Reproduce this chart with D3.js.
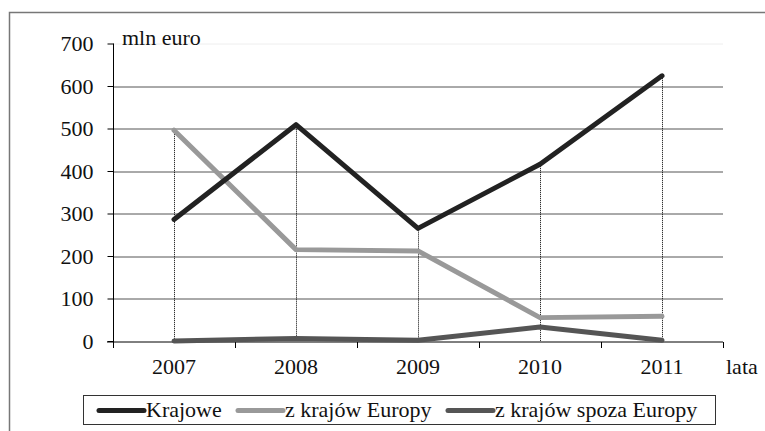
<!DOCTYPE html>
<html>
<head>
<meta charset="utf-8">
<script src="https://cdn.jsdelivr.net/npm/d3@7"></script>
<style>
  body { margin: 0; background: #fff; }
  svg { display: block; }
</style>
</head>
<body>
<div id="vis"><svg></svg></div>
<script>
// data
const years = ["2007", "2008", "2009", "2010", "2011"];
const krajowe = [286, 509, 265, 416, 624];
const europy = [496, 215, 212, 55, 58];
const spoza = [0, 6, 2, 33, 2];
const yTicks = [0, 100, 200, 300, 400, 500, 600, 700];

const series = [
  {name: "Krajowe", values: krajowe, color: "#222222"},
  {name: "z krajów Europy", values: europy, color: "#999999"},
  {name: "z krajów spoza Europy", values: spoza, color: "#555555"}
];

const W = 765, H = 431;
const FS = 22;
const FONT = "Liberation Serif";
const margin = {top: 43.5, right: 42, bottom: 90, left: 113};
const width = W - margin.left - margin.right;
const height = H - margin.top - margin.bottom;

const svg = d3.select("#vis").select("svg")
  .attr("width", W)
  .attr("height", H)
  .attr("font-family", FONT);

// outer frame
svg.append("rect")
  .attr("x", 9.5).attr("y", 12.5)
  .attr("width", W).attr("height", H)
  .attr("fill", "none").attr("stroke", "#777").attr("stroke-width", 1.5);

const g = svg.append("g").attr("transform", `translate(${margin.left},${margin.top})`);

const x = d3.scaleBand().domain(years).range([0, width]);
const y = d3.scaleLinear().domain([0, 700]).range([height, 0]);
const cx = d => x(d) + x.bandwidth() / 2;

// gridlines
g.selectAll(".grid")
  .data(yTicks.filter(t => t > 0))
  .enter().append("line")
    .attr("class", "grid")
    .attr("x1", 0).attr("x2", width)
    .attr("y1", d => Math.round(y(d)) + 0.5).attr("y2", d => Math.round(y(d)) + 0.5)
    .attr("stroke", d => d === 700 ? "#eeeeee" : "#555")
    .attr("stroke-width", 1);

// y axis
const yAxis = g.append("g")
  .attr("transform", "translate(0.5,0)")
  .call(d3.axisLeft(y).tickValues(yTicks).tickSize(6).tickSizeOuter(0).tickPadding(14));
yAxis.attr("font-family", FONT).attr("font-size", FS);
yAxis.select(".domain").attr("stroke", "#000").attr("d", `M0,${y(700)}V${height + 6}`);
yAxis.selectAll(".tick line").attr("stroke", "#000");
yAxis.selectAll(".tick text").attr("font-family", FONT).attr("font-size", FS).attr("fill", "#111");

// x axis with ticks between categories
const xAxisG = g.append("g").attr("transform", `translate(0,${Math.round(height) + 0.5})`);
xAxisG.append("line").attr("x1", -6).attr("x2", width).attr("stroke", "#000");
xAxisG.selectAll(".xt")
  .data(years.map(d => x(d)).concat([width]))
  .enter().append("line")
    .attr("class", "xt")
    .attr("x1", d => Math.round(d) + 0.5).attr("x2", d => Math.round(d) + 0.5)
    .attr("y1", 0).attr("y2", 6)
    .attr("stroke", "#000");
xAxisG.selectAll(".xl")
  .data(years)
  .enter().append("text")
    .attr("class", "xl")
    .attr("x", d => cx(d)).attr("y", 32)
    .attr("text-anchor", "middle")
    .attr("font-family", FONT).attr("font-size", FS).attr("fill", "#111")
    .text(d => d);
xAxisG.append("text")
  .attr("x", width + 3).attr("y", 32)
  .attr("font-family", FONT).attr("font-size", FS).attr("fill", "#111")
  .text("lata");

// unit label
g.append("text")
  .attr("x", 9).attr("y", 1)
  .attr("font-family", FONT).attr("font-size", FS).attr("fill", "#111")
  .text("mln euro");

// drop lines from highest point to axis
g.selectAll(".drop")
  .data(years)
  .enter().append("line")
    .attr("class", "drop")
    .attr("x1", d => Math.round(cx(d)) + 0.5).attr("x2", d => Math.round(cx(d)) + 0.5)
    .attr("y1", (d, i) => y(d3.max(series, s => s.values[i])))
    .attr("y2", height)
    .attr("stroke", "#000").attr("stroke-width", 1)
    .attr("stroke-dasharray", "1,1");

// lines
const line = d3.line()
  .x((d, i) => cx(years[i]))
  .y(d => y(d));

g.selectAll(".series")
  .data(series.slice().reverse())
  .enter().append("path")
    .attr("class", "series")
    .attr("d", d => line(d.values))
    .attr("fill", "none")
    .attr("stroke", d => d.color)
    .attr("stroke-width", 5)
    .attr("stroke-linejoin", "round")
    .attr("stroke-linecap", "round");

// legend
const legend = svg.append("g");
legend.append("rect")
  .attr("x", 83.5).attr("y", 395.5)
  .attr("width", 632).attr("height", 29)
  .attr("fill", "#fff").attr("stroke", "#333").attr("stroke-width", 1);

const legendX = [99, 238, 448];
series.forEach((s, i) => {
  legend.append("line")
    .attr("x1", legendX[i]).attr("x2", legendX[i] + 45)
    .attr("y1", 410.5).attr("y2", 410.5)
    .attr("stroke", s.color).attr("stroke-width", 5)
    .attr("stroke-linecap", "round");
  legend.append("text")
    .attr("x", legendX[i] + 47).attr("y", 417)
    .attr("font-family", FONT).attr("font-size", FS).attr("fill", "#111")
    .text(s.name);
});
</script>
</body>
</html>
